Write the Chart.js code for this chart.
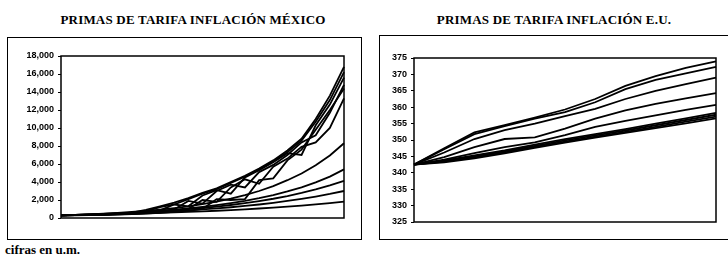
<!DOCTYPE html>
<html>
<head>
<meta charset="utf-8">
<script src="https://cdn.jsdelivr.net/npm/chart.js@4.4.1/dist/chart.umd.min.js"></script>
<style>
    html, body { margin: 0; padding: 0; background: #fff; }
    body { width: 728px; height: 264px; position: relative; overflow: hidden; }
    .title {
        position: absolute; top: 12px;
        font: bold 13px "Liberation Serif", serif;
        letter-spacing: 0.2px;
        color: #000; text-align: center; white-space: nowrap;
    }
    .box { position: absolute; border: 1.5px solid #000; box-sizing: border-box; }
    canvas { position: absolute; }
    .note {
        position: absolute; left: 5px; top: 242px;
        font: bold 13px "Liberation Serif", serif; color: #000;
    }
</style>
</head>
<body>
<div class="title" style="left:40px;width:306px;">PRIMAS DE TARIFA INFLACIÓN MÉXICO</div>
<div class="title" style="left:404px;width:300px;">PRIMAS DE TARIFA INFLACIÓN E.U.</div>
<div class="box" style="left:7px;top:37px;width:355px;height:203px;"></div>
<div class="box" style="left:379px;top:35px;width:360px;height:205px;"></div>
<canvas id="mex" width="364" height="202" style="left:0;top:37px;"></canvas>
<canvas id="usa" width="364" height="204" style="left:364px;top:35px;"></canvas>
<div class="note">cifras en u.m.</div>
<script>
// periods (no labels shown on the x axis)
const mexPeriods = ['0', '1', '2', '3', '4', '5', '6', '7', '8', '9', '10',
    '11', '12', '13', '14', '15', '16', '17', '18', '19', '20'];
const usaPeriods = ['0', '1', '2', '3', '4', '5', '6', '7', '8', '9', '10'];

// México premiums, upper bundle (zig-zag scenarios)
const mexU1 = [300, 320, 350, 400, 480, 600, 900, 1300, 1700, 2200, 2800, 3300, 4000, 4700, 5500, 6400, 7500, 8800, 11000, 13600, 16800];
const mexU2 = [300, 320, 350, 390, 470, 560, 750, 1200, 1500, 2100, 2700, 3200, 3900, 4600, 5400, 6300, 7300, 8600, 10700, 13100, 16200];
const mexU3 = [300, 310, 340, 380, 450, 520, 620, 850, 1500, 1300, 2500, 3100, 2700, 4500, 5300, 6200, 7200, 7000, 10300, 12600, 15600];
const mexU4 = [300, 310, 330, 370, 430, 500, 570, 700, 950, 1900, 1600, 3000, 3700, 3400, 5100, 5900, 7000, 8400, 9200, 11700, 14800];
const mexU5 = [300, 310, 330, 360, 410, 470, 540, 640, 780, 1000, 2000, 1800, 3400, 4300, 3800, 5700, 6600, 7900, 8400, 10000, 13300];
const mexU6 = [300, 305, 320, 350, 390, 440, 500, 580, 680, 800, 1000, 2100, 2000, 2100, 4200, 4400, 6400, 7600, 9800, 12000, 14400];
// México premiums, lower smooth scenarios
const mexL1 = [300, 350, 410, 480, 570, 670, 790, 930, 1100, 1300, 1540, 1820, 2150, 2540, 3000, 3550, 4200, 4950, 5850, 6950, 8300];
const mexL2 = [300, 340, 390, 450, 520, 600, 690, 800, 930, 1070, 1240, 1430, 1650, 1900, 2200, 2550, 2950, 3400, 3950, 4600, 5400];
const mexL3 = [300, 342, 390, 444, 506, 577, 658, 750, 855, 975, 1111, 1267, 1444, 1646, 1877, 2140, 2439, 2780, 3170, 3614, 4120];
const mexL4 = [300, 337, 378, 424, 475, 533, 598, 671, 753, 845, 948, 1063, 1193, 1339, 1502, 1685, 1891, 2121, 2380, 2670, 3000];
const mexL5 = [300, 328, 359, 393, 430, 470, 514, 563, 615, 673, 737, 806, 882, 964, 1055, 1154, 1263, 1381, 1511, 1653, 1810];

// E.U. premiums
const usaA = [342.5, 347.5, 352.3, 354.5, 356.8, 359.3, 362.5, 366.5, 369.5, 372.0, 374.0];
const usaB = [342.5, 347.2, 351.8, 354.2, 356.5, 358.5, 361.5, 365.5, 368.3, 370.3, 372.3];
const usaC = [342.5, 346.2, 350.3, 353.0, 355.0, 357.3, 359.5, 362.5, 365.0, 367.0, 369.0];
const usaD = [342.5, 344.8, 347.8, 350.3, 350.8, 353.5, 356.5, 359.0, 361.0, 362.7, 364.3];
const usaE = [342.5, 344.0, 346.0, 347.8, 349.3, 351.5, 354.0, 355.8, 357.5, 359.2, 360.7];
const usaF = [342.5, 343.8, 345.3, 346.8, 348.6, 350.3, 351.8, 353.3, 355.0, 356.6, 358.3];
const usaG = [342.5, 343.6, 345.0, 346.5, 348.2, 349.9, 351.4, 352.9, 354.5, 356.1, 357.7];
const usaH = [342.5, 343.4, 344.7, 346.2, 347.9, 349.5, 351.0, 352.5, 354.0, 355.6, 357.1];
const usaI = [342.5, 343.2, 344.4, 345.9, 347.6, 349.2, 350.7, 352.2, 353.6, 355.1, 356.6];

// y axis tick range
const mexTicks = { min: 0, max: 18000, step: 2000 };
const usaTicks = { min: 325, max: 375, step: 5 };

const frame = {
    id: 'frame',
    afterDraw(chart) {
        const { ctx, chartArea: a } = chart;
        ctx.save();
        ctx.strokeStyle = '#000';
        ctx.lineWidth = 1.5;
        ctx.strokeRect(a.left, a.top, a.right - a.left, a.bottom - a.top);
        ctx.restore();
    }
};

function lineSet(data) {
    return {
        data,
        borderColor: '#000',
        borderWidth: 1.8,
        pointRadius: 0,
        tension: 0,
        fill: false
    };
}

function makeChart(id, labels, series, ticks, axisWidth, padding) {
    return new Chart(document.getElementById(id), {
        type: 'line',
        data: { labels, datasets: series.map(lineSet) },
        options: {
            responsive: false,
            animation: false,
            events: [],
            layout: { padding },
            plugins: { legend: { display: false }, tooltip: { enabled: false } },
            scales: {
                x: { display: false },
                y: {
                    min: ticks.min,
                    max: ticks.max,
                    border: { display: false },
                    grid: { drawOnChartArea: false, drawTicks: true, tickLength: 3, color: '#000' },
                    ticks: {
                        stepSize: ticks.step,
                        autoSkip: false,
                        padding: 4,
                        color: '#000',
                        font: { family: 'Liberation Sans', size: 9, weight: 'bold' },
                        callback: (v) => v.toLocaleString('en-US')
                    },
                    afterFit: (s) => { s.width = axisWidth; }
                }
            }
        },
        plugins: [frame]
    });
}

makeChart('mex', mexPeriods,
    [mexU1, mexU2, mexU3, mexU4, mexU5, mexU6, mexL1, mexL2, mexL3, mexL4, mexL5],
    mexTicks, 61, { top: 19, right: 20, bottom: 21, left: 0 });

makeChart('usa', usaPeriods,
    [usaA, usaB, usaC, usaD, usaE, usaF, usaG, usaH, usaI],
    usaTicks, 50, { top: 23, right: 12, bottom: 17, left: 0 });
</script>
</body>
</html>
